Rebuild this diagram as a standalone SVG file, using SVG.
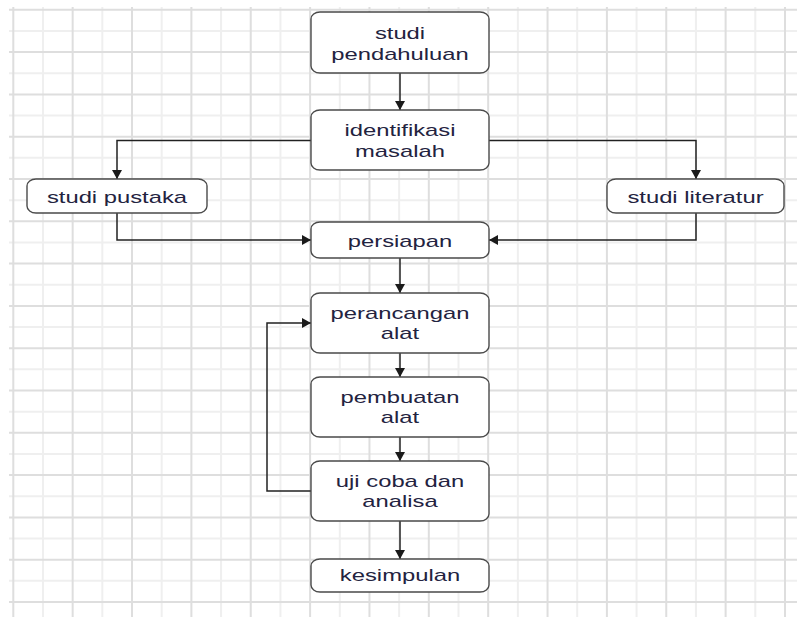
<svg xmlns="http://www.w3.org/2000/svg" width="797" height="617" viewBox="0 0 797 617">
<style>
.bg{fill:#ffffff}
.gd{stroke:#dedede;stroke-width:2;fill:none}
.gl{stroke:#efefef;stroke-width:2;fill:none}
.box{fill:#ffffff;stroke:#4a4a4a;stroke-width:1.4}
.t{font-family:"Liberation Sans",Arial,sans-serif;font-size:17px;fill:#23233f;text-anchor:middle}
.c{stroke:#222222;stroke-width:1.5;fill:none}
</style>
<defs>
<marker id="ah" markerUnits="userSpaceOnUse" viewBox="0 0 9 10" refX="9" refY="5" markerWidth="9" markerHeight="10" orient="auto">
<path d="M0,0 L9,5 L0,10 z" fill="#1a1a1a"/>
</marker>
</defs>
<rect class="bg" x="0" y="0" width="797" height="617"/>
<g id="grid">
<path class="gl" d="M42.98,7V617M102.34,7V617M161.7,7V617M221.06,7V617M280.42,7V617M339.78,7V617M399.14,7V617M458.5,7V617M517.86,7V617M577.22,7V617M636.58,7V617M695.94,7V617M755.3,7V617
M9,30.95H797M9,73.25H797M9,115.55H797M9,157.85H797M9,200.15H797M9,242.45H797M9,284.75H797M9,327.05H797M9,369.35H797M9,411.65H797M9,453.95H797M9,496.25H797M9,538.55H797M9,580.85H797"/>
<path class="gd" d="M13.3,7V617M72.66,7V617M132.02,7V617M191.38,7V617M250.74,7V617M310.1,7V617M369.46,7V617M428.82,7V617M488.18,7V617M547.54,7V617M606.9,7V617M666.26,7V617M725.62,7V617M784.98,7V617
M9,9.8H797M9,52.1H797M9,94.4H797M9,136.7H797M9,179H797M9,221.3H797M9,263.6H797M9,305.9H797M9,348.2H797M9,390.5H797M9,432.8H797M9,475.1H797M9,517.4H797M9,559.7H797M9,602H797"/>
</g>
<g id="connectors">
<path class="c" d="M400,73V110" marker-end="url(#ah)"/>
<path class="c" d="M311,140.5H117V179" marker-end="url(#ah)"/>
<path class="c" d="M489,140.5H696V179" marker-end="url(#ah)"/>
<path class="c" d="M117,213V240H311" marker-end="url(#ah)"/>
<path class="c" d="M696,213V240H489" marker-end="url(#ah)"/>
<path class="c" d="M400,258V293" marker-end="url(#ah)"/>
<path class="c" d="M400,353V377" marker-end="url(#ah)"/>
<path class="c" d="M400,437V461" marker-end="url(#ah)"/>
<path class="c" d="M400,521V559" marker-end="url(#ah)"/>
<path class="c" d="M311,491H267V323H311" marker-end="url(#ah)"/>
</g>
<g id="studi-pendahuluan">
<rect class="box" x="311" y="12" width="178" height="61" rx="9" ry="7"/>
<text class="t" transform="translate(400,39) scale(1.4,1)"><tspan x="0" y="0">studi</tspan><tspan x="0" y="21">pendahuluan</tspan></text>
</g>
<g id="identifikasi-masalah">
<rect class="box" x="311" y="110" width="178" height="60" rx="9" ry="7"/>
<text class="t" transform="translate(400,136) scale(1.4,1)"><tspan x="0" y="0">identifikasi</tspan><tspan x="0" y="21">masalah</tspan></text>
</g>
<g id="studi-pustaka">
<rect class="box" x="27" y="179" width="180" height="34" rx="9" ry="7"/>
<text class="t" transform="translate(117,203) scale(1.4,1)" x="0" y="0">studi pustaka</text>
</g>
<g id="studi-literatur">
<rect class="box" x="607" y="179" width="177" height="34" rx="9" ry="7"/>
<text class="t" transform="translate(695.5,203) scale(1.4,1)" x="0" y="0">studi literatur</text>
</g>
<g id="persiapan">
<rect class="box" x="311" y="222" width="178" height="36" rx="9" ry="7"/>
<text class="t" transform="translate(400,246.5) scale(1.4,1)" x="0" y="0">persiapan</text>
</g>
<g id="perancangan-alat">
<rect class="box" x="311" y="293" width="178" height="60" rx="9" ry="7"/>
<text class="t" transform="translate(400,318.5) scale(1.4,1)"><tspan x="0" y="0">perancangan</tspan><tspan x="0" y="21">alat</tspan></text>
</g>
<g id="pembuatan-alat">
<rect class="box" x="311" y="377" width="178" height="60" rx="9" ry="7"/>
<text class="t" transform="translate(400,402.5) scale(1.4,1)"><tspan x="0" y="0">pembuatan</tspan><tspan x="0" y="21">alat</tspan></text>
</g>
<g id="uji-coba-dan-analisa">
<rect class="box" x="311" y="461" width="178" height="60" rx="9" ry="7"/>
<text class="t" transform="translate(400,486.5) scale(1.4,1)"><tspan x="0" y="0">uji coba dan</tspan><tspan x="0" y="21">analisa</tspan></text>
</g>
<g id="kesimpulan">
<rect class="box" x="311" y="559" width="178" height="33" rx="9" ry="7"/>
<text class="t" transform="translate(400,581) scale(1.4,1)" x="0" y="0">kesimpulan</text>
</g>
</svg>
